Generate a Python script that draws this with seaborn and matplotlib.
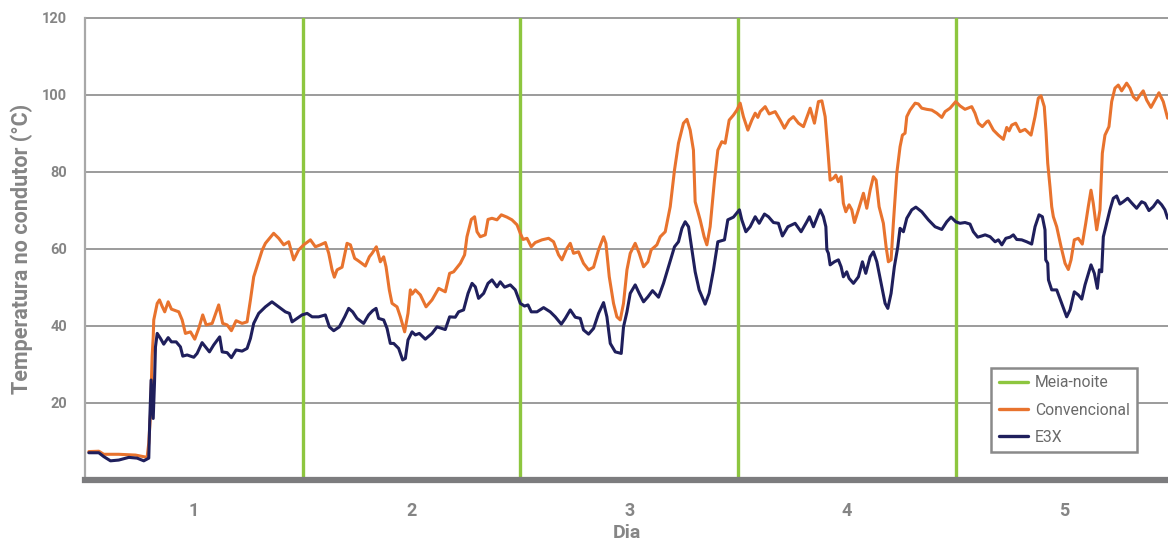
import numpy as np
import pandas as pd
import matplotlib
matplotlib.use("Agg")
import matplotlib.pyplot as plt
import seaborn as sns
from matplotlib.lines import Line2D

# ---------------- data (time in hours, temperature in °C) ----------------
hours_conv = [0.42, 1.52, 2.07, 3.72, 5.56, 6.85, 7.03, 7.22, 7.40, 7.52, 7.58, 7.77, 7.96, 8.21, 8.51,
              8.79, 9.17, 9.53, 10.34, 10.71, 11.07, 11.63, 12.10, 12.54, 12.98, 13.36, 14.02, 14.74, 15.18,
              15.67, 16.14, 16.66, 17.32, 17.87, 18.24, 18.60, 19.53, 19.89, 20.80, 21.36, 21.91, 22.17,
              22.46, 23.01, 23.56, 24.11, 24.85, 25.40, 25.95, 26.50, 26.87, 27.24, 27.49, 27.79, 28.34,
              28.89, 29.26, 29.73, 30.17, 30.91, 31.35, 31.65, 32.12, 32.56, 32.93, 33.19, 33.55, 33.85,
              34.40, 34.77, 35.24, 35.61, 35.87, 36.06, 36.42, 36.97, 37.60, 38.26, 38.99, 39.72, 40.20,
              40.64, 41.38, 41.85, 42.11, 42.59, 42.95, 43.22, 43.58, 44.13, 44.43, 44.87, 45.42, 45.90,
              46.52, 47.07, 47.63, 47.99, 48.29, 48.73, 49.20, 49.64, 50.38, 51.11, 51.66, 52.21, 52.58,
              53.13, 53.50, 53.86, 54.41, 54.96, 55.52, 56.07, 56.62, 57.17, 57.43, 57.80, 58.27, 58.64,
              59.01, 59.37, 59.75, 60.11, 60.66, 61.10, 61.58, 62.06, 62.42, 63.05, 63.42, 63.97, 64.52,
              64.99, 65.43, 65.98, 66.36, 66.72, 67.08, 67.27, 67.82, 68.26, 68.56, 68.92, 69.40, 69.77,
              70.21, 70.58, 71.02, 71.49, 71.87, 72.23, 72.59, 73.08, 73.52, 73.89, 74.18, 74.44, 74.99,
              75.43, 76.09, 76.64, 77.11, 77.63, 78.10, 78.66, 79.21, 79.95, 80.42, 80.86, 81.24, 81.60,
              81.90, 82.15, 82.51, 82.78, 83.06, 83.36, 83.61, 83.88, 84.24, 84.54, 84.83, 85.27, 85.82,
              86.19, 86.56, 86.92, 87.22, 87.55, 88.02, 88.32, 88.57, 88.87, 89.12, 89.50, 89.86, 90.12,
              90.41, 90.60, 90.96, 91.52, 91.88, 92.25, 92.80, 93.36, 93.91, 94.46, 94.82, 95.37, 96.00,
              96.47, 97.02, 97.76, 98.12, 98.49, 98.93, 99.42, 99.60, 100.15, 100.70, 101.25, 101.62,
              101.88, 102.17, 102.61, 103.09, 103.64, 104.30, 104.74, 105.10, 105.40, 105.76, 105.95,
              106.14, 106.39, 106.58, 106.76, 107.13, 107.61, 108.05, 108.41, 108.71, 109.07, 109.51,
              109.95, 110.33, 110.61, 110.91, 111.16, 111.54, 111.90, 112.16, 112.45, 112.89, 113.19,
              113.55, 113.92, 114.29, 114.84, 115.21, 115.57, 115.94, 116.31, 116.67, 117.05, 117.52,
              117.96, 118.40, 118.88, 119.36]
temp_conv = [7.3, 7.4, 6.6, 6.6, 6.4, 5.8, 9.5, 17.0, 32.0, 37.0, 41.5, 43.6, 45.8, 46.7, 45.0,
             43.6, 46.2, 44.3, 43.6, 41.5, 38.0, 38.4, 36.5, 39.3, 42.8, 40.2, 40.6, 45.4, 40.6,
             40.2, 38.7, 41.3, 40.6, 41.0, 46.7, 52.7, 59.6, 61.4, 64.0, 62.7, 61.0, 61.4,
             61.8, 57.1, 59.7, 61.0, 62.3, 60.5, 61.0, 61.6, 58.8, 54.5, 52.6, 54.5, 55.2,
             61.4, 61.0, 57.5, 56.8, 55.5, 57.9, 58.8, 60.5, 56.6, 57.9, 55.3, 49.3, 45.8,
             44.9, 42.3, 38.4, 43.2, 49.3, 48.2, 49.3, 48.0, 44.9, 46.7, 49.7, 48.8, 53.6,
             54.0, 56.2, 58.4, 63.1, 67.6, 68.3, 64.4, 63.1, 63.6, 67.6, 67.9, 67.5, 68.8,
             68.2, 67.5, 66.2, 64.0, 62.4, 62.7, 60.5, 61.6, 62.3, 62.7, 61.8, 58.4, 57.1,
             60.1, 61.4, 58.8, 59.2, 56.2, 54.5, 55.2, 59.7, 63.1, 61.4, 52.7, 45.8, 42.3,
             41.5, 45.8, 54.5, 58.8, 61.4, 58.8, 55.3, 56.6, 59.7, 61.0, 63.1, 64.4, 70.9,
             80.4, 87.4, 92.6, 93.6, 90.8, 85.6, 72.2, 67.5, 63.1, 61.0, 65.7, 77.8, 85.6,
             87.8, 87.4, 93.4, 94.7, 96.0, 97.8, 94.3, 90.8, 93.4, 95.2, 94.1, 95.6, 96.9,
             95.0, 95.6, 93.4, 91.3, 93.4, 94.3, 92.6, 91.7, 96.5, 92.6, 98.2, 98.4, 94.3,
             85.6, 77.8, 78.3, 79.1, 77.4, 78.7, 71.8, 69.6, 71.4, 70.1, 66.8, 70.1, 74.4,
             70.5, 75.2, 78.7, 77.8, 70.9, 66.6, 60.5, 56.6, 57.1, 66.6, 79.6, 86.5, 89.5,
             90.0, 94.3, 96.0, 97.8, 97.6, 96.5, 96.2, 96.0, 95.2, 94.1, 95.6, 96.5, 98.2,
             97.1, 96.2, 96.9, 95.2, 92.6, 91.7, 93.0, 93.2, 90.8, 89.5, 88.4, 91.5,
             90.6, 92.1, 92.6, 90.4, 91.0, 89.5, 94.3, 99.1, 99.7, 96.9, 90.4,
             82.2, 76.1, 70.9, 68.3, 65.7, 60.5, 56.2, 54.6, 57.1, 62.3, 62.7,
             61.2, 66.6, 70.9, 75.2, 71.8, 64.9, 70.1, 84.8, 89.5, 91.7, 98.2,
             101.7, 102.5, 101.0, 103.0, 101.7, 99.5, 98.6, 99.9, 101.0, 98.6, 96.7,
             98.6, 100.5, 98.2, 93.9]

hours_e3x = [0.42, 1.52, 2.07, 2.81, 3.72, 4.83, 5.75, 6.48, 7.03, 7.14, 7.29, 7.52, 7.66, 7.77, 7.96,
             8.32, 8.68, 9.17, 9.53, 10.05, 10.52, 10.78, 11.26, 11.99, 12.36, 12.91, 13.28, 13.72,
             14.19, 14.85, 15.12, 15.67, 16.14, 16.66, 17.32, 17.87, 18.24, 18.60, 19.15, 19.89, 20.61,
             21.36, 22.09, 22.54, 22.83, 23.38, 23.93, 24.49, 25.04, 25.76, 26.50, 26.94, 27.42, 28.04,
             28.63, 29.07, 29.51, 29.99, 30.72, 31.27, 31.71, 32.09, 32.37, 32.93, 33.30, 33.66, 34.03,
             34.58, 35.02, 35.32, 35.61, 36.06, 36.42, 36.86, 37.52, 38.26, 38.81, 39.72, 40.20, 40.82,
             41.19, 41.74, 42.23, 42.67, 43.03, 43.39, 43.95, 44.43, 44.87, 45.42, 45.78, 46.26, 46.89,
             47.44, 47.99, 48.46, 48.84, 49.20, 49.83, 50.56, 51.29, 51.85, 52.51, 52.95, 53.50, 54.05,
             54.60, 54.96, 55.52, 56.07, 56.62, 57.17, 57.54, 57.91, 58.46, 59.12, 59.37, 59.75, 60.11,
             60.66, 61.10, 61.58, 62.06, 62.57, 63.23, 63.78, 64.33, 64.99, 65.43, 65.81, 66.17, 66.54,
             66.91, 67.27, 67.71, 68.37, 68.81, 69.29, 69.77, 70.50, 70.87, 71.49, 72.15, 72.41, 72.86,
             73.33, 73.89, 74.33, 74.91, 75.35, 75.90, 76.45, 76.89, 77.49, 78.29, 78.95, 79.58, 79.87,
             80.31, 81.05, 81.41, 81.68, 81.79, 81.96, 82.15, 82.62, 83.06, 83.36, 83.61, 83.98, 84.24,
             84.72, 85.27, 85.71, 86.08, 86.56, 86.92, 87.30, 87.77, 88.21, 88.51, 88.87, 89.23, 89.61,
             89.86, 90.23, 90.60, 91.15, 91.60, 92.25, 92.98, 93.72, 94.46, 95.01, 95.48, 96.00, 96.47,
             97.02, 97.57, 97.94, 98.42, 98.86, 99.24, 99.79, 100.34, 100.70, 101.08, 101.52, 101.99,
             102.35, 102.72, 103.27, 103.82, 104.37, 104.74, 105.18, 105.55, 105.84, 105.92, 106.14,
             106.22, 106.58, 107.13, 107.68, 108.23, 108.60, 109.07, 109.51, 109.89, 110.25, 110.91,
             111.28, 111.61, 111.83, 112.09, 112.27, 112.64, 113.00, 113.37, 113.74, 114.10, 114.47,
             114.95, 115.39, 115.94, 116.49, 116.86, 117.30, 117.77, 118.26, 118.70, 119.06, 119.36]
temp_e3x = [7.0, 7.0, 6.0, 4.9, 5.1, 5.8, 5.6, 4.9, 5.6, 15.5, 25.9, 15.9, 25.0, 34.5, 38.0,
            36.7, 35.2, 36.9, 35.8, 35.8, 34.5, 32.1, 32.4, 31.8, 32.8, 35.6, 34.5, 33.2,
            35.0, 37.1, 33.2, 33.0, 31.7, 33.7, 33.4, 34.1, 36.7, 40.6, 43.2, 44.9, 46.2,
            44.9, 43.6, 43.2, 41.0, 41.9, 42.8, 43.2, 42.3, 42.3, 42.8, 39.7, 38.7, 39.7,
            42.3, 44.5, 43.6, 41.9, 40.6, 42.8, 43.9, 44.5, 41.9, 41.5, 39.3, 35.4, 35.4,
            34.1, 31.1, 31.5, 36.3, 38.4, 37.6, 38.0, 36.5, 38.0, 39.7, 39.0, 42.3, 42.2,
            43.6, 44.1, 48.4, 51.0, 50.1, 47.1, 48.4, 51.0, 51.9, 50.1, 51.4, 50.0, 50.6,
            49.3, 45.8, 45.1, 45.4, 43.6, 43.6, 44.7, 43.6, 42.3, 40.4, 41.9, 44.1, 42.2,
            41.9, 38.9, 37.8, 39.3, 43.2, 46.0, 42.3, 35.4, 33.2, 32.8, 39.7, 43.6, 48.4,
            50.6, 48.4, 46.2, 47.5, 49.1, 47.4, 51.0, 55.3, 60.5, 61.8, 65.3, 67.0, 65.7,
            59.7, 54.0, 49.3, 45.6, 48.4, 54.5, 61.8, 62.3, 67.5, 68.2, 70.1, 67.5, 64.4,
            65.7, 68.3, 66.6, 69.0, 68.3, 66.8, 66.6, 63.3, 65.7, 66.6, 64.4, 67.0, 68.3,
            65.7, 70.1, 68.3, 65.7, 59.7, 58.8, 55.8, 56.6, 57.1, 55.3, 52.7, 54.0, 52.3,
            51.0, 52.7, 56.6, 53.6, 57.9, 59.2, 56.6, 51.0, 45.8, 44.5, 48.4, 55.3, 60.5,
            65.3, 64.4, 67.9, 70.1, 70.8, 69.6, 67.5, 65.7, 65.0, 67.0, 68.2, 67.0, 66.6,
            66.8, 66.4, 64.4, 63.0, 63.3, 63.6, 63.1, 61.8, 62.3, 61.0, 62.7, 63.0,
            63.6, 62.4, 62.3, 61.8, 61.2, 65.7, 68.8, 68.3, 64.9, 57.1, 56.2,
            51.9, 49.3, 49.3, 45.8, 42.3, 44.1, 48.8, 48.0, 46.9, 50.6, 55.8,
            53.6, 49.7, 54.5, 54.0, 63.1, 66.6, 70.1, 73.1, 73.7, 71.6, 72.2,
            73.1, 71.9, 70.5, 72.2, 71.8, 69.9, 70.9, 72.5, 71.4, 70.1, 67.9]

midnights = [24, 48, 72, 96]
day_ticks = [12, 36, 60, 84, 108]
day_labels = ["1", "2", "3", "4", "5"]
y_ticks = [20, 40, 60, 80, 100, 120]
series_names = ["Convencional", "E3X"]

# ---------------- styling ----------------
C_ORANGE = "#E8732E"
C_NAVY = "#1F1F5C"
C_GREEN = "#8DC63F"
C_GRID = "#9B9B9B"
C_TEXT = "#858585"
C_AXIS = "#7C7C7E"

sns.set_theme(style="white")
plt.rcParams["font.family"] = ["Roboto", "DejaVu Sans"]

df = pd.concat([
    pd.DataFrame({"hora": hours_conv, "temp": temp_conv, "serie": series_names[0]}),
    pd.DataFrame({"hora": hours_e3x, "temp": temp_e3x, "serie": series_names[1]}),
], ignore_index=True)

fig = plt.figure(figsize=(11.68, 5.42), dpi=100)
ax = fig.add_axes([85 / 1168, 1 - 479.7 / 542, 1 - 85 / 1168, (479.7 - 17.7) / 542])

# grid lines
for yv in y_ticks:
    ax.axhline(yv, color=C_GRID, lw=1.4, zorder=1, clip_on=False)

for m in midnights:
    ax.axvline(m, color=C_GREEN, lw=2.4, zorder=2)

sns.lineplot(data=df, x="hora", y="temp", hue="serie", palette=[C_ORANGE, C_NAVY],
             estimator=None, sort=False, lw=2.2, ax=ax, legend=False, zorder=3)

ax.set_xlim(0, 119.4)
ax.set_ylim(0, 120)
ax.set_xticks(day_ticks)
ax.set_xticklabels(day_labels)
ax.set_yticks(y_ticks)
ax.tick_params(axis="x", length=0, pad=16, labelsize=13, labelcolor=C_TEXT)
ax.tick_params(axis="y", length=7, width=1.4, color=C_GRID, pad=6, labelsize=10.5, labelcolor=C_TEXT)
for lab in ax.get_xticklabels() + ax.get_yticklabels():
    lab.set_fontweight("bold")

ax.set_xlabel("Dia", fontsize=14, fontweight="bold", color=C_TEXT, labelpad=3)
ax.set_ylabel("Temperatura no condutor (°C)", fontsize=15.5, fontweight="bold", color=C_TEXT, labelpad=6)

for s in ["top", "right"]:
    ax.spines[s].set_visible(False)
ax.spines["left"].set_color("#A8A8A8")
ax.spines["left"].set_linewidth(1.6)
ax.spines["bottom"].set_color(C_AXIS)
ax.spines["bottom"].set_linewidth(4.5)
ax.spines["bottom"].set_zorder(4)

handles = [Line2D([], [], color=C_GREEN, lw=2.4),
           Line2D([], [], color=C_ORANGE, lw=2.4),
           Line2D([], [], color=C_NAVY, lw=2.4)]
labels = ["Meia-noite"] + series_names
leg = ax.legend(handles, labels, loc="lower right", bbox_to_anchor=(0.971, 0.06),
                frameon=True, fancybox=False, framealpha=1, edgecolor="#8A8A8A",
                fontsize=11.3, handlelength=1.9, handletextpad=0.4, labelspacing=0.78,
                borderpad=0.45, borderaxespad=0)
leg.get_frame().set_linewidth(1.8)
for t in leg.get_texts():
    t.set_color("#6A6A6A")

fig.savefig("out.png", dpi=100)
